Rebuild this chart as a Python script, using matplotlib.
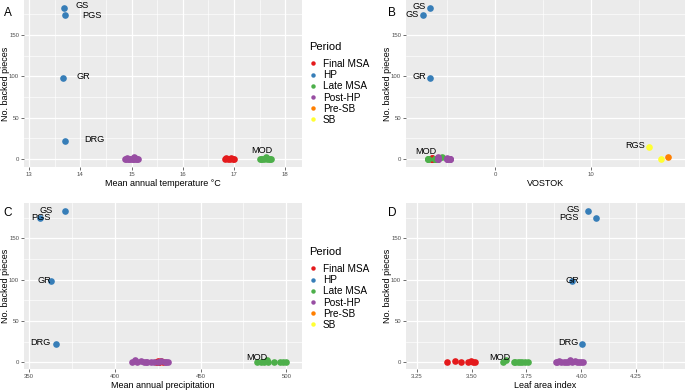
import matplotlib.pyplot as plt
import numpy as np
import pandas as pd
from matplotlib.lines import Line2D

plt.rcParams['font.family'] = ['Liberation Sans', 'DejaVu Sans']

# ---- data (one value per site) ----
periods = ["Final MSA", "HP", "Late MSA", "Post-HP", "Pre-SB", "SB"]
period_colors = ["#E41A1C", "#377EB8", "#4DAF4A", "#984EA3", "#FF7F00", "#FFFF33"]

final_count = [0, 1, 0, 0, 1, 0, 0]
final_temp = [16.82, 16.85, 16.88, 16.92, 16.95, 16.98, 17.00]
final_vostok = [-6.6, -6.6, -6.6, -6.6, -6.6, -6.6, -6.6]
final_precip = [424, 425, 426, 426, 427, 428, 425]
final_lai = [3.388, 3.424, 3.45, 3.484, 3.495, 3.505, 3.515]

hp_site = ["GS", "PGS", "GR", "DRG"]
hp_count = [183, 174, 98, 22]
hp_temp = [13.68, 13.70, 13.67, 13.71]
hp_vostok = [-6.8, -7.5, -6.8, np.nan]
hp_precip = [371, 356.4, 362.6, 366]
hp_lai = [4.032, 4.067, 3.96, 4.005]

late_site = ["", "MOD", "", "", "", "", "", "", ""]
late_count = [0, 3, 0, 0, 0, 0, 0, 0, 0]
late_temp = [17.50, 17.62, 17.52, 17.55, 17.58, 17.65, 17.68, 17.70, 17.72]
late_vostok = [-7.0, -5.5, -7.0, -6.3, -6.3, -6.3, -7.0, -6.3, -7.0]
late_precip = [483, 488.5, 485, 487, 489, 492.5, 496, 498, 499.5]
late_lai = [3.641, 3.655, 3.693, 3.70, 3.71, 3.72, 3.73, 3.745, 3.757]

post_count = [0, 0, 1, 0, 0, 0, 3, 0, 0, 1, 0, 0, 0, 0]
post_temp = [14.87, 14.89, 14.92, 14.95, 14.97, 15.00, 15.05, 15.02, 15.04, 15.07, 15.09, 15.10, 15.12, 14.94]
post_vostok = [-5.9, -5.9, -5.0, -4.7, -5.9, -5.0, -5.9, -4.7, -5.0, -5.9, -4.7, -5.0, -5.9, -4.7]
post_precip = [410, 413, 415, 417, 419, 421, 411.6, 423, 425, 427, 429, 430, 431, 418]
post_lai = [3.885, 3.89, 3.90, 3.91, 3.92, 3.93, 3.95, 3.94, 3.96, 3.97, 3.98, 3.99, 4.00, 4.01]

presb_count = [2]
presb_vostok = [18.0]

sb_site = ["RGS", ""]
sb_count = [15, 0]
sb_vostok = [16.1, 17.3]

rows = []
def add(period, count, temp=None, vostok=None, precip=None, lai=None, site=None):
    n = len(count)
    nan = [np.nan] * n
    rows.append(pd.DataFrame({
        "period": period, "count": count,
        "temp": temp or nan, "vostok": vostok or nan,
        "precip": precip or nan, "lai": lai or nan,
        "site": site or [""] * n}))

add("Final MSA", final_count, final_temp, final_vostok, final_precip, final_lai)
add("HP", hp_count, hp_temp, hp_vostok, hp_precip, hp_lai, hp_site)
add("Late MSA", late_count, late_temp, late_vostok, late_precip, late_lai, late_site)
add("Post-HP", post_count, post_temp, post_vostok, post_precip, post_lai)
add("Pre-SB", presb_count, vostok=presb_vostok)
add("SB", sb_count, vostok=sb_vostok, site=sb_site)
df = pd.concat(rows, ignore_index=True)

# ---- figure ----
fig = plt.figure(figsize=(6.85, 3.91), dpi=100)
W, H = 685, 391

def px_axes(left, top, right, bottom):
    return fig.add_axes([left / W, 1 - bottom / H, (right - left) / W, (bottom - top) / H])

panels = [
    # letter, column, box, xlim, ylim, xticks, xticklabels, minor, xlabel, label offsets(px), label rename
    ("A", "temp", (24, 0, 302, 167), (12.90, 18.33), (-9.7, 192.3),
     [13, 14, 15, 16, 17, 18], None, np.arange(13.5, 18.4, 1),
     "Mean annual temperature °C",
     {"GS": (18, 2), "PGS": (27, 0), "GR": (20, 1), "DRG": (29, 1), "MOD": (-4, 6)}, {}),
    ("B", "vostok", (406, 0, 685, 167), (-9.27, 19.8), (-9.7, 192.3),
     [0, 10], None, [-5, 5, 15],
     "VOSTOK",
     {"GS": (-11, 1), "PGS": (-11, 1), "GR": (-10, 1), "MOD": (-16, 5), "RGS": (-14, 1)}, {"PGS": "GS"}),
    ("C", "precip", (24, 203, 302, 369), (347.1, 509.1), (-8.1, 192.7),
     [350, 400, 450, 500], None, [375, 425, 475],
     "Mean annual precipitation",
     {"GS": (-19, 1), "PGS": (1, 1), "GR": (-6, 1), "DRG": (-16, 2), "MOD": (-10, 2)}, {}),
    ("D", "lai", (406, 203, 685, 369), (3.20, 4.474), (-8.1, 192.7),
     [3.25, 3.5, 3.75, 4.0, 4.25], ["3.25", "3.50", "3.75", "4.00", "4.25"],
     [3.375, 3.625, 3.875, 4.125, 4.375],
     "Leaf area index",
     {"GS": (-15, 2), "PGS": (-27, 1), "GR": (0, 1), "DRG": (-14, 2), "MOD": (-6, 2)}, {}),
]

for letter, col, box, xlim, ylim, xt, xtl, minor, xlabel, offs, rename in panels:
    ax = px_axes(*box)
    ax.set_facecolor("#EBEBEB")
    for s in ax.spines.values():
        s.set_visible(False)
    ax.set_xlim(*xlim)
    ax.set_ylim(*ylim)
    ax.set_xticks(xt)
    if xtl:
        ax.set_xticklabels(xtl)
    ax.set_xticks(minor, minor=True)
    ax.set_yticks([0, 50, 100, 150])
    ax.set_yticks([25, 75, 125, 175], minor=True)
    ax.grid(which="major", color="white", linewidth=0.9)
    ax.grid(which="minor", color="white", linewidth=0.45)
    ax.set_axisbelow(True)
    ax.tick_params(which="major", length=2, width=0.5, color="#333333",
                   labelsize=4.3, labelcolor="#4D4D4D", pad=1.5)
    ax.tick_params(which="minor", length=0)
    ax.set_xlabel(xlabel, fontsize=6.5, labelpad=1.5)
    ax.set_ylabel("No. backed pieces", fontsize=6.5, va="center")
    ax.yaxis.set_label_coords(-18 / (box[2] - box[0]), 0.5)

    for p, c in zip(periods, period_colors):
        sub = df[(df.period == p) & df[col].notna()]
        ax.scatter(sub[col], sub["count"], s=23, color=c, linewidths=0, zorder=3)

    lab = df[(df.site != "") & df[col].notna()]
    for _, r in lab.iterrows():
        dx, dy = offs.get(r.site, (0, 4))
        ax.annotate(rename.get(r.site, r.site), (r[col], r["count"]),
                    xytext=(dx, dy), textcoords="offset pixels",
                    ha="center", va="center", fontsize=6.6, color="black", zorder=4)

    lx = 8 if box[0] < 100 else 392
    ly = 13 if box[1] < 100 else 213
    fig.text(lx / W, 1 - ly / H, letter, fontsize=8.5, ha="center", va="center")

# ---- legends ----
handles = [Line2D([], [], marker="o", linestyle="", markersize=3.2, markerfacecolor=c,
                  markeredgewidth=0) for c in period_colors]
for top in (35, 240):
    leg = fig.legend(handles, periods, title="Period", loc="upper left",
                     bbox_to_anchor=(302 / W, 1 - top / H), frameon=False,
                     fontsize=7.2, title_fontsize=8, labelspacing=0.12,
                     handlelength=0.8, handletextpad=0.6, borderpad=0.2,
                     alignment="left")
    leg._legend_box.sep = 5

fig.savefig("out.png", dpi=100)
